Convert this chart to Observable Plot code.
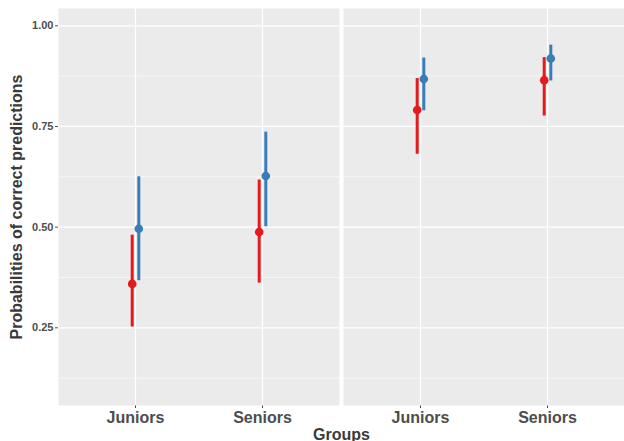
<!DOCTYPE html>
<html><head><meta charset="utf-8">
<script src="https://cdn.jsdelivr.net/npm/d3@7"></script>
<script src="https://cdn.jsdelivr.net/npm/@observablehq/plot@0.6"></script>
<style>
body{margin:0;background:#fff;}
#chart svg{font-family:"Liberation Sans",Arial,sans-serif;font-weight:bold;background:#fff;}
g[aria-label="y-axis tick label"]{font-size:11px;fill:#4D4D4D;}
g[aria-label="y-axis tick"]{stroke:#333;}
g[aria-label="x-axis tick label"]{font-size:16px;fill:#4D4D4D;}
g[aria-label="x-axis tick"]{stroke:#333;}
g[aria-label="y-axis label"]{font-size:16px;fill:#3A3A3A;}
g[aria-label="fx-axis label"]{font-size:16px;fill:#3A3A3A;}
</style>
</head><body><div id="chart"></div>
<script>
// Data
const panels   = ["Panel 1","Panel 1","Panel 1","Panel 1","Panel 2","Panel 2","Panel 2","Panel 2"];
const groups   = ["Juniors","Juniors","Seniors","Seniors","Juniors","Juniors","Seniors","Seniors"];
const series   = ["Series 1","Series 2","Series 1","Series 2","Series 1","Series 2","Series 1","Series 2"];
const estimates = [0.359,0.496,0.488,0.627,0.791,0.868,0.865,0.919];
const lowers    = [0.252,0.367,0.361,0.501,0.681,0.789,0.776,0.863];
const uppers    = [0.480,0.625,0.617,0.736,0.869,0.920,0.921,0.952];

const groupNames = ["Juniors","Seniors"];
const panelNames = ["Panel 1","Panel 2"];
const seriesNames = ["Series 1","Series 2"];
const seriesColors = ["#E41A1C","#377EB8"];
const majorTicks = [0.25,0.50,0.75,1.00];
const minorTicks = [0.125,0.375,0.625,0.875];

const data = estimates.map((e,i)=>({panel:panels[i],group:groups[i],series:series[i],est:e,lo:lowers[i],hi:uppers[i]}));
const s1 = data.filter(d=>d.series===seriesNames[0]);
const s2 = data.filter(d=>d.series===seriesNames[1]);

const plot = Plot.plot({
  width:624, height:441,
  marginLeft:57, marginRight:0, marginTop:8, marginBottom:36,
  style:{fontFamily:"Liberation Sans, Arial, sans-serif", fontWeight:"bold", color:"#4D4D4D", background:"#fff"},
  fx:{domain:panelNames, padding:0.0141, axis:"bottom", tickFormat:()=>"", tickSize:0, label:"Groups", labelAnchor:"center", labelOffset:34},
  x:{type:"point", domain:groupNames, padding:0.6, tickSize:3, tickPadding:3, label:null},
  y:{domain:[0.057,1.043], ticks:majorTicks, tickFormat:".2f", tickSize:3, tickPadding:2, label:"Probabilities of correct predictions", labelAnchor:"center", labelOffset:48, labelArrow:"none"},
  color:{domain:seriesNames, range:seriesColors},
  marks:[
    Plot.frame({fill:"#EBEBEB", stroke:null}),
    Plot.ruleY(minorTicks,{stroke:"#fff", strokeWidth:0.6}),
    Plot.ruleY(majorTicks,{stroke:"#fff", strokeWidth:1.2}),
    Plot.ruleX(groupNames,{x:d=>d, stroke:"#fff", strokeWidth:1.2}),
    Plot.ruleX(s1,{fx:"panel", x:"group", y1:"lo", y2:"hi", stroke:"series", strokeWidth:3, dx:-3.3}),
    Plot.ruleX(s2,{fx:"panel", x:"group", y1:"lo", y2:"hi", stroke:"series", strokeWidth:3, dx:3.3}),
    Plot.dot(s1,{fx:"panel", x:"group", y:"est", fill:"series", r:4.3, dx:-3.3}),
    Plot.dot(s2,{fx:"panel", x:"group", y:"est", fill:"series", r:4.3, dx:3.3})
  ]
});
document.getElementById("chart").appendChild(plot);
</script>
</body></html>
